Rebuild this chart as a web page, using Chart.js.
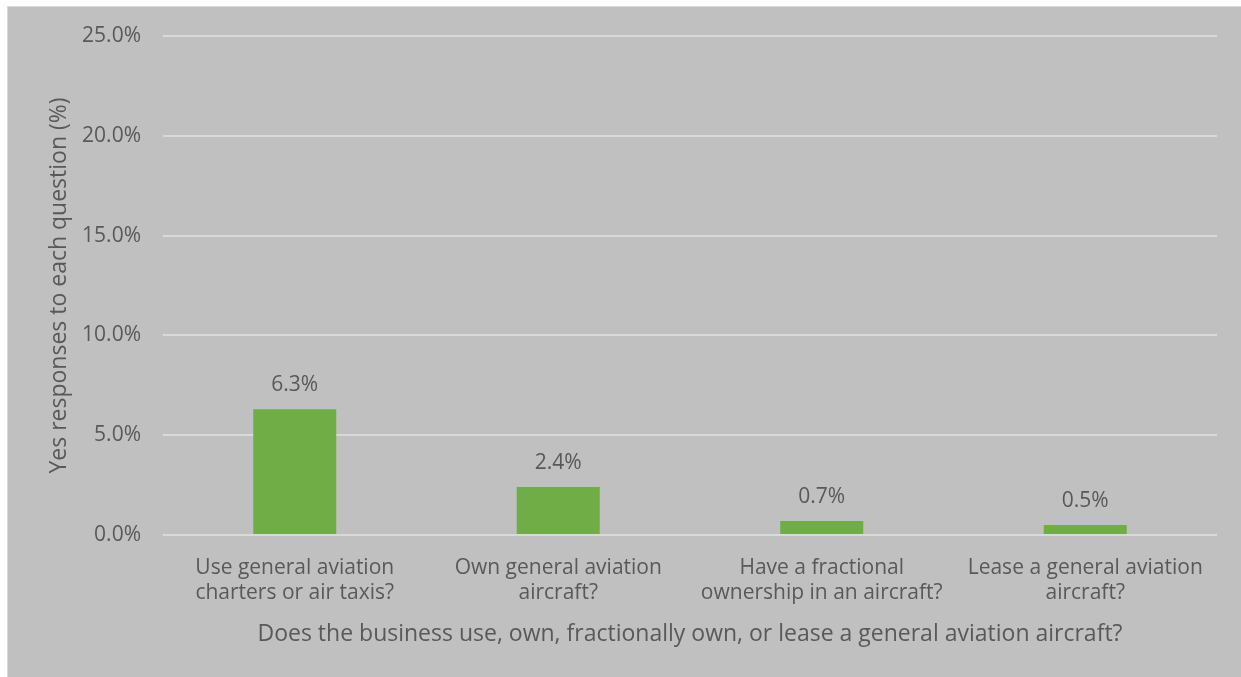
<!DOCTYPE html>
<html>
<head>
<meta charset="utf-8">
<script src="https://cdn.jsdelivr.net/npm/chart.js@4/dist/chart.umd.min.js"></script>
<style>
  html, body { margin: 0; padding: 0; background: #ffffff; }
  #frame {
    position: absolute; left: 7px; top: 6px;
    width: 1233px; height: 670px;
    border-left: 1px solid #d9d9d9; border-top: 1px solid #d9d9d9;
    background: #c0c0c0;
  }
  #chart { display: block; }
</style>
</head>
<body>
<div id="frame"><canvas id="chart" width="1233" height="670"></canvas></div>
<script>
// Survey results: share of businesses answering "yes" to each question
const categories = [
  ["Use general aviation", "charters or air taxis?"],
  ["Own general aviation", "aircraft?"],
  ["Have a fractional", "ownership in an aircraft?"],
  ["Lease a general aviation", "aircraft?"]
];
const yesPercent = [6.3, 2.4, 0.7, 0.5];
const yTicks = [0, 5, 10, 15, 20, 25];

const textColor = "#595959";
const fontFamily = "'Open Sans', 'Liberation Sans', sans-serif";

// Writes each bar's value just above it
const valueLabels = {
  id: "valueLabels",
  afterDatasetsDraw(chart) {
    const ctx = chart.ctx;
    const meta = chart.getDatasetMeta(0);
    ctx.save();
    ctx.fillStyle = textColor;
    ctx.font = "21px " + fontFamily;
    ctx.textAlign = "center";
    ctx.textBaseline = "alphabetic";
    meta.data.forEach((bar, i) => {
      const v = chart.data.datasets[0].data[i];
      ctx.fillText(v.toFixed(1) + "%", bar.x, bar.y - 18);
    });
    ctx.restore();
  }
};

new Chart(document.getElementById("chart"), {
  type: "bar",
  data: {
    labels: categories,
    datasets: [{
      data: yesPercent,
      backgroundColor: "#70ad47",
      borderWidth: 0,
      categoryPercentage: 1,
      barPercentage: 0.315
    }]
  },
  options: {
    responsive: false,
    animation: false,
    layout: { padding: { left: 38, right: 24, top: 29, bottom: 29 } },
    plugins: {
      legend: { display: false },
      tooltip: { enabled: false }
    },
    scales: {
      x: {
        grid: { display: false, drawTicks: false },
        border: { display: false },
        ticks: {
          color: textColor,
          font: { family: fontFamily, size: 21 },
          padding: 20,
          maxRotation: 0,
          autoSkip: false
        },
        title: {
          display: true,
          text: "Does the business use, own, fractionally own, or lease a general aviation aircraft?",
          color: textColor,
          font: { family: fontFamily, size: 23 },
          padding: { top: 15, bottom: 0 }
        },
        afterFit(scale) {
          scale.height = 113;
          scale.paddingLeft = 0;
          scale.paddingRight = 0;
        }
      },
      y: {
        min: 0,
        max: 25,
        afterBuildTicks(scale) {
          scale.ticks = yTicks.map(v => ({ value: v }));
        },
        grid: { color: "#d9d9d9", lineWidth: 2, drawTicks: false },
        border: { display: false },
        ticks: {
          color: textColor,
          font: { family: fontFamily, size: 21 },
          padding: 22,
          callback: v => Number(v).toFixed(1) + "%"
        },
        title: {
          display: true,
          text: "Yes responses to each question (%)",
          color: textColor,
          font: { family: fontFamily, size: 23 },
          padding: { top: 0, bottom: 0 }
        },
        afterFit(scale) {
          scale.width = 117;
          scale.paddingTop = 0;
          scale.paddingBottom = 0;
        }
      }
    }
  },
  plugins: [valueLabels]
});
</script>
</body>
</html>
